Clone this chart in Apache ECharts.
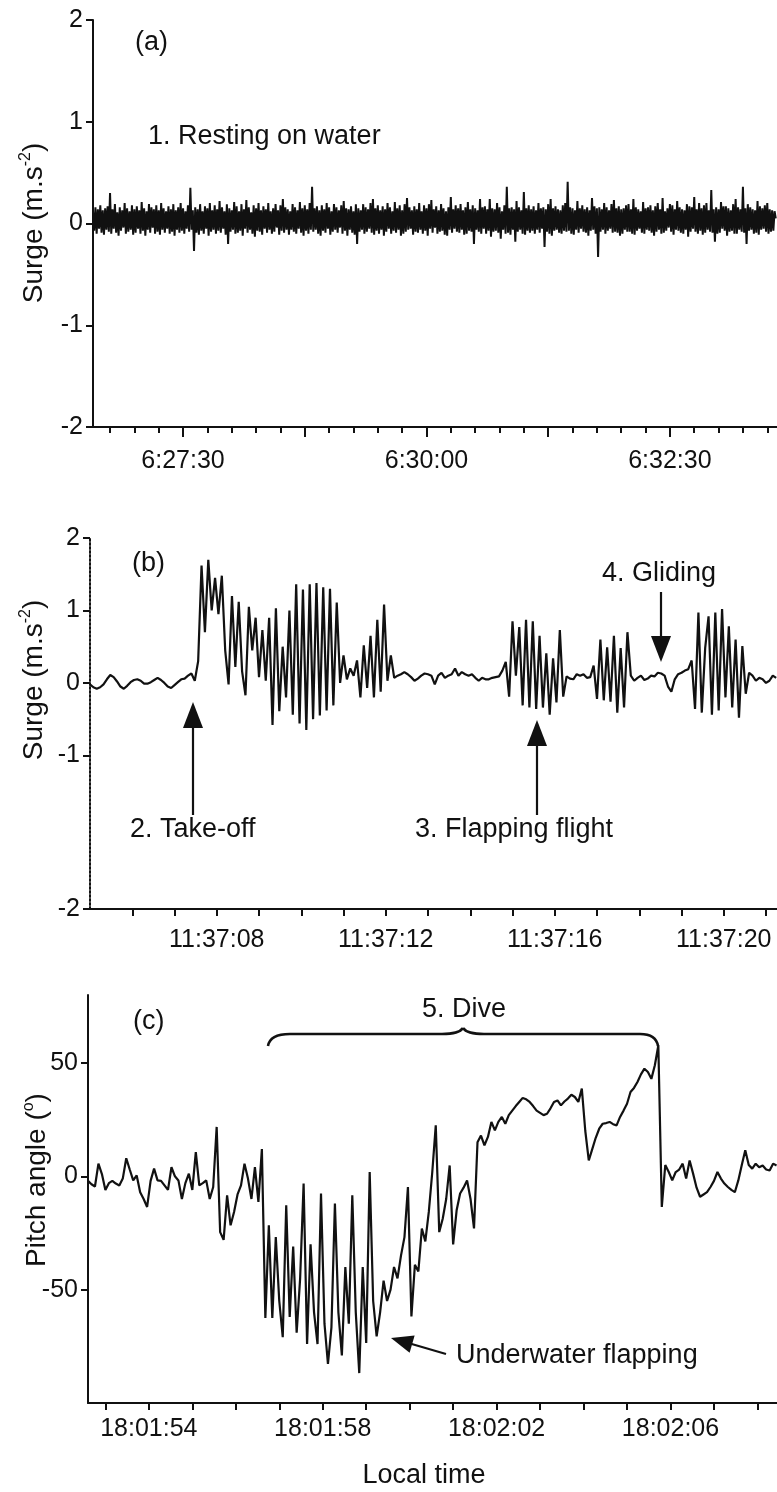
<!DOCTYPE html>
<html><head><meta charset="utf-8">
<script src="https://cdn.jsdelivr.net/npm/echarts@6/dist/echarts.min.js"></script>
<style>html,body{margin:0;padding:0;background:#fff}#c{width:777px;height:1492px}</style>
</head><body><div id="c"></div>
<script>
const FONT = 'Liberation Sans, Arial, Helvetica, sans-serif';
const INK = '#111';

// ---------- Panel (a): resting on water ----------
const startA = 23194.5;      // 6:26:34.5 (s since midnight)
const stepA = 0.75;          // s between samples
const xRangeA = [23194.5, 23616];
const xMajorTicksA = [23250, 23325, 23400, 23475, 23550];
const xLabelsA = [23250, 23400, 23550];
const yTicksA = [-2, -1, 0, 1, 2];
const surgeA = [
0.12,-0.07,0.16,-0.1,0.14,-0.05,0.18,-0.09,0.13,-0.11,0.15,-0.06,0.17,-0.08,0.30,-0.1,0.14,-0.05,0.19,-0.09,
0.11,-0.12,0.16,-0.07,0.13,-0.04,0.2,-0.1,0.15,-0.08,0.12,-0.06,0.18,-0.11,0.14,-0.09,0.17,-0.05,0.13,-0.1,
0.21,-0.07,0.15,-0.12,0.12,-0.06,0.19,-0.09,0.16,-0.04,0.14,-0.1,0.18,-0.08,0.13,-0.11,0.2,-0.06,0.15,-0.09,
0.12,-0.05,0.17,-0.1,0.14,-0.08,0.19,-0.12,0.13,-0.06,0.16,-0.09,0.2,-0.07,0.15,-0.1,0.12,-0.05,0.18,-0.08,
0.35,-0.06,0.13,-0.27,0.16,-0.09,0.14,-0.11,0.19,-0.07,0.12,-0.1,0.17,-0.05,0.15,-0.12,0.2,-0.08,0.13,-0.06,
0.18,-0.1,0.14,-0.07,0.22,-0.09,0.16,-0.05,0.12,-0.11,0.19,-0.2,0.15,-0.08,0.13,-0.06,0.21,-0.1,0.17,-0.09,
0.12,-0.07,0.19,-0.12,0.14,-0.05,0.23,-0.09,0.16,-0.06,0.11,-0.1,0.18,-0.13,0.15,-0.07,0.2,-0.08,0.13,-0.11,
0.17,-0.05,0.14,-0.09,0.2,-0.06,0.12,-0.1,0.15,-0.08,0.19,-0.04,0.13,-0.11,0.18,-0.07,0.24,-0.09,0.16,-0.06,
0.14,-0.11,0.12,-0.06,0.19,-0.08,0.16,-0.1,0.13,-0.05,0.21,-0.09,0.15,-0.12,0.18,-0.07,0.14,-0.1,0.2,-0.06,
0.36,-0.08,0.15,-0.06,0.17,-0.1,0.13,-0.12,0.18,-0.07,0.14,-0.09,0.2,-0.05,0.16,-0.11,0.12,-0.08,0.19,-0.06,
0.16,-0.09,0.13,-0.04,0.18,-0.1,0.22,-0.07,0.15,-0.12,0.14,-0.06,0.17,-0.09,0.12,-0.11,0.19,-0.2,0.15,-0.08,
0.13,-0.06,0.19,-0.1,0.16,-0.08,0.14,-0.05,0.2,-0.09,0.24,-0.11,0.15,-0.07,0.18,-0.1,0.13,-0.06,0.17,-0.12,
0.14,-0.08,0.2,-0.05,0.16,-0.1,0.12,-0.07,0.21,-0.09,0.15,-0.06,0.18,-0.12,0.13,-0.1,0.19,-0.08,0.25,-0.06,
0.16,-0.05,0.13,-0.11,0.17,-0.08,0.14,-0.09,0.2,-0.06,0.12,-0.1,0.18,-0.07,0.15,-0.12,0.19,-0.05,0.23,-0.09,
0.14,-0.04,0.17,-0.1,0.13,-0.08,0.19,-0.07,0.15,-0.11,0.12,-0.12,0.16,-0.06,0.26,-0.09,0.14,-0.05,0.18,-0.08,
0.15,-0.09,0.19,-0.06,0.13,-0.11,0.16,-0.1,0.21,-0.07,0.14,-0.08,0.18,-0.2,0.15,-0.06,0.13,-0.08,0.24,-0.1,
0.16,-0.05,0.17,-0.1,0.14,-0.07,0.24,-0.13,0.15,-0.08,0.14,-0.07,0.2,-0.09,0.16,-0.15,0.12,-0.06,0.18,-0.1,
0.36,-0.09,0.15,-0.11,0.16,-0.06,0.14,-0.18,0.22,-0.08,0.16,-0.06,0.13,-0.1,0.31,-0.11,0.15,-0.07,0.18,-0.09,
0.14,-0.07,0.17,-0.1,0.13,-0.06,0.2,-0.09,0.15,-0.05,0.16,-0.23,0.14,-0.08,0.19,-0.1,0.24,-0.12,0.15,-0.07,
0.17,-0.06,0.14,-0.09,0.13,-0.1,0.18,-0.07,0.2,-0.08,0.41,-0.07,0.16,-0.1,0.15,-0.11,0.13,-0.06,0.22,-0.09,
0.15,-0.05,0.18,-0.08,0.14,-0.09,0.16,-0.12,0.13,-0.07,0.25,-0.06,0.17,-0.1,0.15,-0.33,0.16,-0.08,0.14,-0.06,
0.2,-0.1,0.16,-0.07,0.13,-0.05,0.19,-0.09,0.23,-0.08,0.15,-0.09,0.17,-0.12,0.14,-0.1,0.15,-0.06,0.18,-0.08,
0.19,-0.08,0.14,-0.1,0.24,-0.11,0.16,-0.07,0.14,-0.05,0.12,-0.09,0.21,-0.1,0.15,-0.06,0.16,-0.07,0.18,-0.09,
0.13,-0.12,0.17,-0.08,0.2,-0.06,0.14,-0.1,0.25,-0.09,0.12,-0.07,0.15,-0.04,0.19,-0.08,0.18,-0.11,0.14,-0.06,
0.22,-0.07,0.16,-0.09,0.14,-0.1,0.13,-0.06,0.19,-0.13,0.17,-0.08,0.16,-0.05,0.26,-0.08,0.14,-0.1,0.2,-0.07,
0.15,-0.11,0.18,-0.09,0.2,-0.06,0.13,-0.08,0.33,-0.09,0.14,-0.18,0.16,-0.1,0.14,-0.09,0.21,-0.05,0.17,-0.07,
0.17,-0.12,0.15,-0.08,0.13,-0.07,0.19,-0.1,0.24,-0.1,0.16,-0.06,0.14,-0.08,0.36,-0.09,0.15,-0.2,0.19,-0.07,
0.16,-0.06,0.14,-0.1,0.13,-0.09,0.22,-0.11,0.17,-0.06,0.15,-0.05,0.18,-0.08,0.2,-0.1,0.14,-0.08,0.13,-0.07,
0.12,0.05];

// ---------- Panel (b): take-off, flapping, gliding ----------
const startB = 41825;        // 11:37:05
const stepB = 0.08;
const xRangeB = [41825, 41841.26];
const xTicksB = [41826,41827,41828,41829,41830,41831,41832,41833,41834,41835,41836,41837,41838,41839,41840,41841];
const xLabelsB = [41828, 41832, 41836, 41840];
const yRangeB = [-3.12, 2];
const yTicksB = [2, 1, 0, -1, -3.12];
const surgeB = [
-0.02,-0.06,-0.08,-0.06,-0.02,0.05,0.11,0.08,0.02,-0.05,
-0.08,-0.04,0.01,0.04,0.05,0.03,-0.01,-0.01,0.01,0.04,
0.07,0.04,0.0,-0.05,-0.07,-0.03,0.01,0.05,0.06,0.1,
0.13,0.03,0.3,1.62,0.7,1.7,1.0,1.45,0.95,1.48,
0.45,-0.02,1.2,0.22,1.12,0.16,-0.17,1.05,0.45,0.9,
0.08,0.73,0.03,0.9,-0.58,1.03,-0.39,0.5,-0.2,1.0,
-0.44,1.36,-0.56,1.29,-0.65,1.36,-0.5,1.38,-0.45,1.32,
-0.38,1.3,-0.31,1.11,0.0,0.38,0.05,0.2,0.1,0.31,
-0.2,0.52,-0.07,0.65,-0.2,0.87,-0.12,1.08,0.03,0.38,
0.07,0.1,0.12,0.15,0.12,0.08,0.03,0.06,0.1,0.13,
0.12,0.1,-0.02,0.1,0.14,0.07,0.1,0.12,0.2,0.1,
0.15,0.12,0.1,0.12,0.07,0.03,0.07,0.05,0.05,0.07,
0.08,0.09,0.17,0.29,-0.19,0.85,0.1,0.77,-0.31,0.87,
-0.34,0.85,-0.36,0.65,-0.34,0.41,-0.44,0.34,-0.27,0.73,
-0.19,0.09,0.06,0.05,0.12,0.1,0.12,0.07,0.08,0.24,
-0.22,0.6,-0.24,0.49,-0.26,0.65,-0.41,0.48,-0.34,0.7,
0.1,0.03,0.07,0.1,0.04,0.06,0.1,0.09,0.14,0.13,
0.1,-0.05,-0.12,0.05,0.12,0.14,0.17,0.19,0.31,-0.36,
0.97,-0.41,0.48,0.92,-0.44,0.97,-0.38,1.02,-0.2,0.78,
-0.34,0.6,-0.48,0.51,-0.15,0.14,0.1,0.03,0.07,0.05,
0.0,0.03,0.1,0.07];

// ---------- Panel (c): dive ----------
const startC = 64912.6;      // 18:01:52.6
const stepC = 0.08;
const xRangeC = [64912.6, 64928.45];
const xTicksC = [64913,64914,64915,64916,64917,64918,64919,64920,64921,64922,64923,64924,64925,64926,64927,64928];
const xLabelsC = [64914, 64918, 64922, 64926];
const yRangeC = [-100, 80];
const yTicksC = [-50, 0, 50];
const pitchC = [
-2,-3.5,-4.5,5.6,1,-6,-3,-2,-3.2,-4,
-1,8,3,-1.8,0.4,-7,-10,-13.5,-2,3.4,
-1.8,-2,-4,-6,4,0,-1.8,-10,-3,1.2,
-6,10.7,-4,-3,-1.8,-10,-4.7,21.8,-24.6,-28,
-8.4,-21.6,-15.7,-8,-4,5.6,-1,-10,4.1,-11.3,
12,-62.5,-21.6,-62.5,-26.8,-55,-71,-12.8,-62,-31,
-69,-45,-3.2,-74,-30,-60,-74,-7.6,-65,-82.8,
-66.6,-12,-60,-79,-40,-65,-8.4,-60,-86.8,-40,
-73.5,1.9,-55,-70.6,-60,-46,-55,-50,-40,-45,
-35,-26.8,-4.7,-61.8,-39,-42,-23,-28.7,-15.7,1.9,
22.5,-24.6,-18.7,-10,4.8,-30,-15,-7.6,-5,-1.8,
-10,-23,15,18,13.7,17.4,24,20.3,24,26.2,
23.2,27,29,31,32.8,34.6,34,32.8,31,29,
28,27,27.6,30,32.8,33.5,31.3,33,34.3,36,
35,32.8,38.7,20,7,12,17,21,23.2,23.5,
24,23,22.5,26.2,29,32,37.2,39,41.6,45,
47.5,46,43,49,57.8,-13.5,5,1.9,-1.8,1.9,
3,5.6,-1,7,1.2,-5,-9,-8,-7,-4.7,
-2,1.9,-1,-3.2,-4.7,-6,-7,-1.8,5,11.5,
5,3.4,5.6,4,4.8,3,2.6,5.6,4.8];

function toPairs(start, step, vals) { return vals.map((v, i) => [start + i * step, v]); }
function hms(s) {
  s = Math.round(s);
  const h = Math.floor(s / 3600), m = Math.floor((s % 3600) / 60), sec = s % 60;
  return h + ':' + String(m).padStart(2, '0') + ':' + String(sec).padStart(2, '0');
}
const minorTicksA = [];
for (let t = 23205; t <= 23610; t += 15) minorTicksA.push(t);

const tickLabel = { color: INK, fontFamily: FONT, fontSize: 25 };

function xAxis(grid, range, ticks, labels, tickLen, showLine, showLabels, margin) {
  return {
    type: 'value', gridIndex: grid, min: range[0], max: range[1], position: 'bottom',
    axisLine: { show: showLine, onZero: false, lineStyle: { color: INK, width: 2 } },
    axisTick: { show: true, inside: false, length: tickLen, customValues: ticks, lineStyle: { color: INK, width: 2 } },
    axisLabel: Object.assign({ show: showLabels, customValues: labels, formatter: hms, margin: margin || 19 }, tickLabel),
    splitLine: { show: false }
  };
}
function yAxis(grid, range, ticks, fmt, lineType) {
  return {
    type: 'value', gridIndex: grid, min: range[0], max: range[1],
    axisLine: { show: true, onZero: false, lineStyle: { color: INK, width: 2, type: lineType || 'solid' } },
    axisTick: { show: true, inside: false, length: 7, customValues: ticks, lineStyle: { color: INK, width: 2 } },
    axisLabel: Object.assign({ customValues: ticks, margin: 10, formatter: fmt }, tickLabel),
    splitLine: { show: false }
  };
}

const chart = echarts.init(document.getElementById('c'), null, { renderer: 'canvas' });

function txt(x, y, s, align, size) {
  return { type: 'text', x: x, y: y, silent: true,
    style: { text: s, fill: INK, fontFamily: FONT, fontSize: size || 27, textAlign: align || 'left', textVerticalAlign: 'middle' } };
}
function seg(x1, y1, x2, y2, w) {
  return { type: 'line', silent: true, shape: { x1: x1, y1: y1, x2: x2, y2: y2 }, style: { stroke: INK, lineWidth: w || 2.2 } };
}
function curve(x1, y1, cx, cy, x2, y2) {
  return { type: 'bezierCurve', silent: true, shape: { x1: x1, y1: y1, cpx1: cx, cpy1: cy, x2: x2, y2: y2 },
    style: { stroke: INK, lineWidth: 2.6, fill: null } };
}
function vArrow(x, tipY, tailY, dirUp) {
  const hl = 26, hw = 10;
  const baseY = dirUp ? tipY + hl : tipY - hl;
  return [
    seg(x, tailY, x, baseY + (dirUp ? -4 : 4)),
    { type: 'polygon', silent: true, shape: { points: [[x - hw, baseY], [x + hw, baseY], [x, tipY]] }, style: { fill: INK } }
  ];
}
function arrow(x1, y1, x2, y2) {
  const dx = x2 - x1, dy = y2 - y1, L = Math.hypot(dx, dy), ux = dx / L, uy = dy / L;
  const hl = 22, hw = 9, bx = x2 - ux * hl, by = y2 - uy * hl;
  return [
    seg(x1, y1, bx + ux * 4, by + uy * 4),
    { type: 'polygon', silent: true, shape: { points: [[bx - uy * hw, by + ux * hw], [bx + uy * hw, by - ux * hw], [x2, y2]] }, style: { fill: INK } }
  ];
}
function vLabel(x, y, parts) {
  return { type: 'text', x: x, y: y, rotation: Math.PI / 2, silent: true,
    style: { text: parts, textAlign: 'center', textVerticalAlign: 'middle',
      rich: { n: { fontFamily: FONT, fontSize: 28, fill: INK, lineHeight: 32 },
              s: { fontFamily: FONT, fontSize: 16, fill: INK, lineHeight: 15, verticalAlign: 'top' } } } };
}

const graphics = [
  txt(135, 43, '(a)'), txt(148, 137, '1. Resting on water'),
  txt(132, 564, '(b)'), txt(602, 574, '4. Gliding'),
  txt(130, 830, '2. Take-off'), txt(415, 830, '3. Flapping flight'),
  txt(133, 1022, '(c)'), txt(464, 1010, '5. Dive', 'center'),
  txt(456, 1356, 'Underwater flapping'),
  txt(424, 1476, 'Local time', 'center'),
  vLabel(34, 223, '{n|Surge (m.s}{s|-2}{n|)}'),
  vLabel(34, 680, '{n|Surge (m.s}{s|-2}{n|)}'),
  vLabel(37, 1180, '{n|Pitch angle (}{s|o}{n|)}'),
  curve(268, 1046, 270, 1034, 290, 1034),
  seg(290, 1034, 442, 1034, 2.6),
  curve(442, 1034, 459, 1034, 463, 1028),
  curve(463, 1028, 467, 1034, 484, 1034),
  seg(484, 1034, 640, 1034, 2.6),
  curve(640, 1034, 656, 1034, 658, 1046)
].concat(vArrow(661, 662, 592, false), vArrow(193, 702, 815, true), vArrow(537, 720, 815, true), arrow(446, 1354, 391, 1338));

chart.setOption({
  animation: false,
  backgroundColor: '#fff',
  grid: [
    { left: 93, top: 20, right: 0, height: 407 },
    { left: 90, top: 538, right: 0, height: 371 },
    { left: 88, top: 995, right: 0, height: 408 }
  ],
  xAxis: [
    xAxis(0, xRangeA, xMajorTicksA, xLabelsA, 10, true, true, 22),
    xAxis(0, xRangeA, minorTicksA, [], 6, false, false),
    xAxis(1, xRangeB, xTicksB, xLabelsB, 7, true, true, 19),
    xAxis(2, xRangeC, xTicksC, xLabelsC, 7, true, true, 14)
  ],
  yAxis: [
    yAxis(0, [-2, 2], yTicksA, v => String(v)),
    yAxis(1, yRangeB, yTicksB, v => (v < -2 ? '-2' : String(v)), 'dotted'),
    yAxis(2, yRangeC, yTicksC, v => String(v))
  ],
  series: [
    { type: 'line', xAxisIndex: 0, yAxisIndex: 0, data: toPairs(startA, stepA, surgeA), showSymbol: false,
      lineStyle: { color: INK, width: 2.0 }, itemStyle: { color: INK } },
    { type: 'line', xAxisIndex: 2, yAxisIndex: 1, data: toPairs(startB, stepB, surgeB), showSymbol: false,
      lineStyle: { color: INK, width: 2.2 }, itemStyle: { color: INK } },
    { type: 'line', xAxisIndex: 3, yAxisIndex: 2, data: toPairs(startC, stepC, pitchC), showSymbol: false,
      lineStyle: { color: INK, width: 2.2 }, itemStyle: { color: INK } }
  ],
  graphic: graphics
});
</script></body></html>
